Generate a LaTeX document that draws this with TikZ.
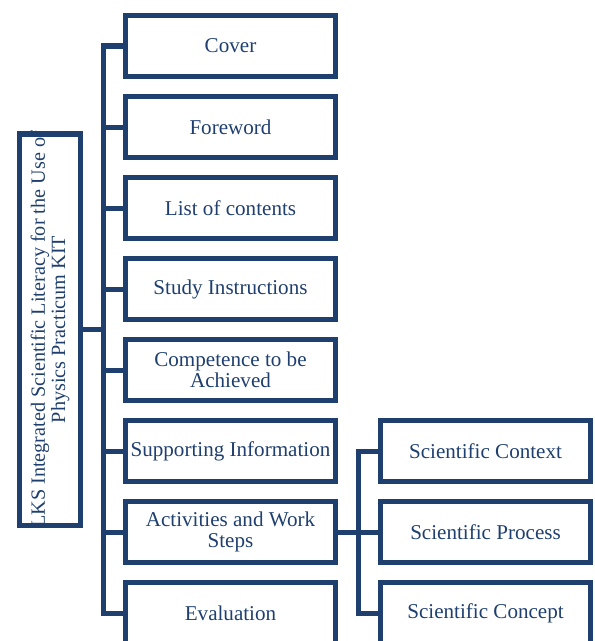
\documentclass[tikz,border=0pt]{standalone}
\usepackage{fontspec}
\setmainfont{Liberation Serif}
\usepackage{xcolor}
\usetikzlibrary{positioning}
\definecolor{navy}{HTML}{1F3F6E}

\begin{document}
\begin{tikzpicture}[
    node distance=3mm and 8mm,
    box/.style={rectangle, draw=navy, line width=2.85pt, text=navy,
                minimum width=4.2cm, minimum height=1.22cm, inner sep=2pt,
                align=center, font=\fontsize{12}{12}\selectfont},
    conn/.style={draw=navy, line width=2.85pt}
  ]
  \useasboundingbox (0,0) rectangle (11.88,-12.82);

  % root, turned on its side (so its .south is the right side)
  \node[box, rotate=90, minimum width=7.82cm, minimum height=1.22cm,
        font=\fontsize{11.5}{11.5}\selectfont] (lks) at (1.0,-6.59)
    {\makebox[0pt]{LKS Integrated Scientific Literacy for the Use of}\\
     \makebox[0pt]{Physics Practicum KIT}};

  % parts of the worksheet
  \node[box] (cover) at (4.61,-0.92) {Cover};
  \node[box, below=of cover] (foreword) {Foreword};
  \node[box, below=of foreword] (contents) {List of contents};
  \node[box, below=of contents] (instr) {Study Instructions};
  \node[box, below=of instr] (compet) {Competence to be\\ Achieved};
  \node[box, below=of compet] (support) {Supporting Information};
  \node[box, below=of support] (activ) {Activities and Work\\ Steps};
  \node[box, below=of activ] (eval) {Evaluation};

  % scientific aspects
  \node[box, right=of support] (context) {Scientific Context};
  \node[box, right=of activ] (process) {Scientific Process};
  \node[box, right=of eval] (concept) {Scientific Concept};

  \foreach \part in {cover, foreword, contents, instr, compet, support, activ, eval}
    \draw[conn] (lks.south) -- ++(0.4,0) |- (\part.west);
  \foreach \aspect in {context, process, concept}
    \draw[conn] (activ.east) -- ++(0.4,0) |- (\aspect.west);
\end{tikzpicture}
\end{document}
